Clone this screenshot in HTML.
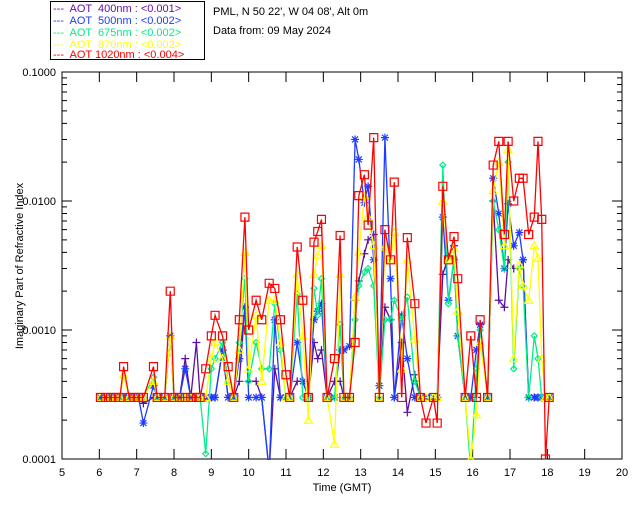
<!DOCTYPE html>
<html><head><meta charset="utf-8"><style>
body{margin:0;background:#fff;}
svg{display:block;font-family:"Liberation Sans",sans-serif;font-size:11px;}
</style></head><body>
<svg id="chart" width="640" height="512" viewBox="0 0 640 512">
<rect width="640" height="512" fill="#fff"/>
<g>
<rect x="50.5" y="1.5" width="154" height="58" fill="#fff" stroke="#000"/>
<text x="53" y="12" fill="#6a0dad" xml:space="preserve">---  AOT  400nm : &lt;0.001&gt;</text>
<text x="53" y="24" fill="#1e3cff" xml:space="preserve">---  AOT  500nm : &lt;0.002&gt;</text>
<text x="53" y="36" fill="#00ee88" xml:space="preserve">---  AOT  675nm : &lt;0.002&gt;</text>
<text x="53" y="48" fill="#ffff00" xml:space="preserve">---  AOT  870nm : &lt;0.002&gt;</text>
<text x="53" y="58" fill="#ff0000" xml:space="preserve">---  AOT 1020nm : &lt;0.004&gt;</text>
</g>
<text x="213" y="15">PML, N 50 22', W 04 08', Alt 0m</text>
<text x="213" y="34">Data from: 09 May 2024</text>
<text x="342" y="491" text-anchor="middle">Time (GMT)</text>
<text transform="translate(23,266) rotate(-90)" text-anchor="middle">Imaginary Part of Refractive Index</text>
<defs><clipPath id="pc"><rect x="62" y="72" width="560" height="388"/></clipPath></defs>
<g id="axes"></g>
<g id="series" clip-path="url(#pc)"></g>
</svg>
<script>
const xTicks=[5,6,7,8,9,10,11,12,13,14,15,16,17,18,19,20];
const yTickLabels=["0.0001","0.0010","0.0100","0.1000"];
const times=[6.03,6.17,6.30,6.43,6.55,6.65,6.80,6.93,7.05,7.18,7.45,7.55,7.75,7.9,8.0,8.15,8.3,8.45,8.6,8.7,8.85,9.0,9.1,9.3,9.45,9.6,9.75,9.9,10.0,10.2,10.35,10.55,10.7,10.85,11.0,11.1,11.3,11.45,11.6,11.75,11.85,11.95,12.1,12.3,12.45,12.55,12.7,12.85,12.95,13.1,13.2,13.35,13.5,13.65,13.8,13.9,14.1,14.25,14.45,14.6,14.75,14.95,15.05,15.2,15.35,15.5,15.6,15.8,15.95,16.1,16.2,16.4,16.55,16.7,16.85,16.95,17.1,17.25,17.35,17.5,17.65,17.75,17.85,17.95,18.05];
const red=[.0003,.0003,.0003,.0003,.0003,.00052,.0003,.0003,.0003,.0003,.00052,.0003,.0003,.002,.0003,.0003,.0003,.0003,.0003,.0003,.0005,.0009,.0013,.0009,.00052,.0003,.0012,.0075,.001,.0017,.0012,.0023,.0021,.0012,.00045,.0003,.0044,.0017,.0003,.0048,.0058,.0072,.0003,.0006,.0054,.0003,.0003,.0008,.011,.016,.0065,.031,.0003,.006,.0035,.014,.0003,.0052,.0016,.0003,.00019,.0003,.00019,.013,.0035,.0053,.0025,.0003,.0009,.0003,.0012,.0003,.019,.029,.0055,.029,.01,.015,.015,.0055,.0075,.029,.0072,.0001,.0003];
const yellow=[.0003,.0003,.0003,.0003,.0003,.00045,.0003,.0003,.0003,.0003,.0004,.0003,.0003,.0009,.0003,.0003,.0003,.0003,.0003,.0003,.0003,.0006,.0008,.0006,.0004,.0003,.0007,.004,.0005,.0013,.0004,.0017,.0017,.0008,.0003,.0003,.0027,.0009,.0002,.0027,.0038,.0045,.0003,.00013,.0027,.0003,.0003,.0018,.004,.011,.0075,.0045,.0003,.0044,.0035,.0057,.0005,.0035,.00085,.0003,.0003,.0003,.0003,.01,.0035,.0043,.0014,.0003,.0001,.00022,.0008,.0003,.012,.02,.0045,.025,.0006,.0032,.0022,.0017,.0045,.0036,.0006,.0003,.0003];
const green=[.0003,.0003,.0003,.0003,.0003,.0003,.0003,.0003,.0003,.0003,.00043,.0003,.0003,.0009,.0003,.0003,.0003,.0003,.0003,.0003,.00011,.0005,.0006,.0008,.0004,.0003,.0008,.0025,.0004,.0008,.0005,.0005,.0016,.0007,.0003,.0003,.0019,.0003,.0003,.0021,.0013,.0025,.0003,.0003,.0011,.0003,.0003,.0012,.0022,.0028,.003,.0022,.0003,.0012,.0012,.0017,.0012,.0018,.0004,.0003,.0003,.0003,.0003,.019,.0016,.0036,.0009,.0003,.00008,.0005,.001,.0003,.01,.006,.003,.02,.0005,.003,.0022,.0003,.0009,.0006,.0003,.0003,.0003];
const blue=[.0003,.0003,.0003,.0003,.0003,.0003,.0003,.0003,.0003,.00019,.00037,.0003,.0003,.0009,.0003,.0003,.0005,.0003,.0003,.0003,.0003,.0003,.0003,.0007,.0003,.0003,.0006,.0015,.0003,.0003,.0003,.00008,.0012,.0003,.0003,.0003,.0008,.0004,.0003,.0012,.0014,.0016,.0003,.0003,.0007,.0007,.00075,.03,.021,.0097,.013,.0035,.00037,.031,.0025,.0003,.0013,.0006,.0003,.0003,.0003,.0003,.0003,.0075,.0017,.0035,.0009,.0003,.0003,.0007,.0011,.0003,.015,.008,.003,.0095,.0045,.0057,.0035,.0003,.0003,.0003,.0003,.0003,.0003];
const purple=[.0003,.0003,.0003,.0003,.0003,.0003,.0003,.0003,.0003,.00027,.0003,.0003,.0003,.0009,.0003,.0003,.0006,.0003,.0008,.0003,.0003,.0003,.0003,.0007,.0003,.0003,.0004,.0015,.0004,.0004,.0003,.00008,.0005,.0003,.0003,.0003,.0004,.0004,.0003,.0008,.0006,.0007,.0003,.0004,.0004,.0003,.0003,.0017,.0024,.0039,.005,.0055,.0003,.0015,.0012,.0003,.0008,.00023,.00045,.0003,.0003,.0003,.0003,.0027,.0037,.0045,.0009,.0003,.0003,.0003,.0011,.0003,.01,.0017,.0015,.0035,.003,.003,.0035,.0003,.0003,.0003,.0003,.0003,.0003];

const NS="http://www.w3.org/2000/svg";
const X0=62,X1=622,Y0=459,DEC=129;
function xScale(t){return X0+(t-5)*(X1-X0)/15;}
function yScale(v){return Y0-(Math.log10(v)+4)*DEC;}
function mk(tag,attrs,parent){const e=document.createElementNS(NS,tag);for(const k in attrs)e.setAttribute(k,attrs[k]);parent.appendChild(e);return e;}
const axes=document.getElementById('axes');
const frame=mk('rect',{x:X0,y:72,width:X1-X0,height:Y0-72,fill:'none',stroke:'#000'},axes);


xTicks.forEach(t=>{
  const x=xScale(t);
  const tk=mk('path',{d:`M${x} ${Y0}V${Y0-10}M${x} 72V82`,stroke:'#000'},axes);
  
  
  const lb=mk('text',{x:x,y:476,'text-anchor':'middle'},axes);lb.textContent=t;
  
  
});
yTickLabels.forEach((s,i)=>{
  const v=parseFloat(s),y=yScale(v);
  const tk=mk('path',{d:`M${X0} ${y}H${X0+10}M${X1} ${y}H${X1-10}`,stroke:'#000'},axes);
  
  
  const lb=mk('text',{x:56,y:y+4,'text-anchor':'end'},axes);lb.textContent=s;
  
  
  if(i<yTickLabels.length-1){for(let m=2;m<=9;m++){const ym=yScale(v*m);
    const mt=mk('path',{d:`M${X0} ${ym}H${X0+5}M${X1} ${ym}H${X1-5}`,stroke:'#000'},axes);
    
    }}
});
const ser=document.getElementById('series');
const defs=[["purple",purple,"#5a0fa0","plus"],["blue",blue,"#1e3cff","star"],["green",green,"#00ee88","diamond"],["yellow",yellow,"#ffff00","tri"],["red",red,"#ff0000","square"]];
defs.forEach(([nm,vals,col,m])=>{
  const g=mk('g',{},ser);
  
  
  const pts=times.map((t,i)=>xScale(t).toFixed(1)+','+yScale(vals[i]).toFixed(1)).join(' ');
  const ln=mk('polyline',{points:pts,fill:'none',stroke:col,'stroke-width':1.3},g);
  
  
  times.forEach((t,i)=>{
    const x=xScale(t),y=yScale(vals[i]);let d;
    if(m=="plus")d=`M${x-4} ${y}H${x+4}M${x} ${y-4}V${y+4}`;
    else if(m=="star")d=`M${x-4} ${y}H${x+4}M${x} ${y-4}V${y+4}M${x-3} ${y-3}L${x+3} ${y+3}M${x-3} ${y+3}L${x+3} ${y-3}`;
    else if(m=="diamond")d=`M${x} ${y-3}L${x+3} ${y}L${x} ${y+3}L${x-3} ${y}Z`;
    else if(m=="tri")d=`M${x} ${y-4}L${x+4} ${y+3}L${x-4} ${y+3}Z`;
    else d=`M${x-4} ${y-4}h8v8h-8Z`;
    const p=mk('path',{d:d,fill:'none',stroke:col,'stroke-width':1.2},g);
    
    
  });
});
</script>
</body></html>
